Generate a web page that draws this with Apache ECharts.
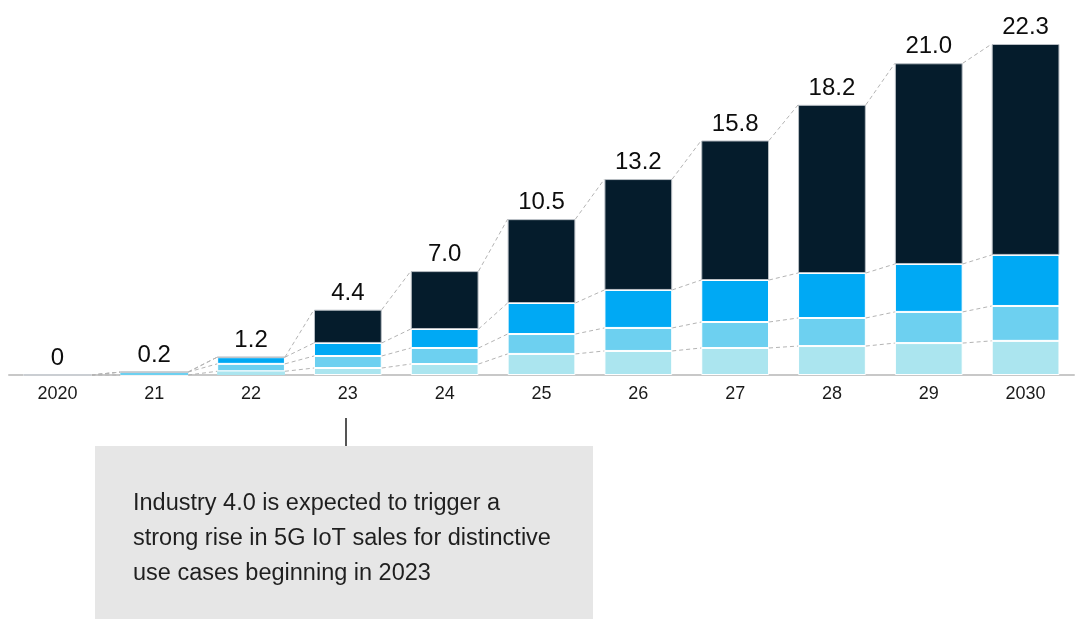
<!DOCTYPE html>
<html>
<head>
<meta charset="utf-8">
<script src="https://cdn.jsdelivr.net/npm/echarts@6/dist/echarts.min.js"></script>
<style>
  html, body { margin: 0; padding: 0; background: #fff; }
  #chart { width: 1075px; height: 619px; }
</style>
</head>
<body>
<div id="chart"></div>
<script>
// 5G IoT sales by year, stacked by segment (bottom to top)
const years = ['2020', '21', '22', '23', '24', '25', '26', '27', '28', '29', '2030'];
const segLightest = [0, 0, 0.25, 0.47, 0.74, 1.42, 1.62, 1.82, 1.95, 2.15, 2.30];
const segLight    = [0, 0.2, 0.50, 0.81, 1.08, 1.34, 1.55, 1.75, 1.89, 2.10, 2.35];
const segMid      = [0, 0, 0.45, 0.88, 1.28, 2.09, 2.56, 2.83, 3.03, 3.23, 3.44];
const segDark     = [0, 0, 0, 2.24, 3.90, 5.65, 7.47, 9.40, 11.33, 13.52, 14.21];
const totals      = [0, 0.2, 1.2, 4.4, 7.0, 10.5, 13.2, 15.8, 18.2, 21.0, 22.3];
const totalLabels = ['0', '0.2', '1.2', '4.4', '7.0', '10.5', '13.2', '15.8', '18.2', '21.0', '22.3'];
const noteText = 'Industry 4.0 is expected to trigger a\nstrong rise in 5G IoT sales for distinctive\nuse cases beginning in 2023';

const layers = [segLightest, segLight, segMid, segDark];
const colors = ['#abe5ef', '#6dd0f0', '#00a9f4', '#051c2c'];
const FONT = '"Liberation Sans", Arial, sans-serif';
const BAR_RATIO = 0.70;

// running tops of each layer for the connector lines
const cumTops = layers.map((_, k) =>
  years.map((_, i) => {
    let s = 0;
    for (let j = 0; j <= k; j++) s += layers[j][i];
    return s;
  })
);

const chart = echarts.init(document.getElementById('chart'), null, { renderer: 'canvas' });

const barSeries = layers.map((data, k) => ({
  type: 'bar',
  stack: 'sales',
  // very thin segments skip the white separator so their colour stays visible
  data: data.map(v => (v > 0 && v < 0.3) ? { value: v, itemStyle: { borderWidth: 0 } } : v),
  barWidth: (BAR_RATIO * 100) + '%',
  itemStyle: {
    color: colors[k],
    borderColor: k === 3 ? '#b9bec4' : '#ffffff',
    borderWidth: 1
  },
  z: 3,
  emphasis: { disabled: true },
  silent: true
}));

option = {
  animation: false,
  backgroundColor: '#ffffff',
  grid: { left: 9, right: 1, top: 44, bottom: 244, containLabel: false },
  xAxis: {
    type: 'category',
    data: years,
    axisLine: { show: true, lineStyle: { color: '#c8c8c8', width: 2 } },
    axisTick: { show: false },
    axisLabel: { color: '#1a1a1a', fontSize: 18, fontFamily: FONT, margin: 10 }
  },
  yAxis: {
    type: 'value',
    min: 0,
    max: 22.3,
    show: false,
    splitLine: { show: false }
  },
  series: [
    // dashed connectors between matching segment tops of neighbouring bars
    {
      type: 'custom',
      data: years.slice(0, -1).map((_, i) => [i, 0]),
      z: 1,
      silent: true,
      renderItem: function (params, api) {
        const i = api.value(0);
        const half = api.size([1, 0])[0] * BAR_RATIO / 2;
        const children = [];
        for (let k = 0; k < cumTops.length; k++) {
          const a = api.coord([i, cumTops[k][i]]);
          const b = api.coord([i + 1, cumTops[k][i + 1]]);
          children.push({
            type: 'line',
            shape: { x1: a[0] + half, y1: a[1], x2: b[0] - half, y2: b[1] },
            style: { stroke: '#b4b4b4', lineWidth: 1, lineDash: [4, 3] }
          });
        }
        return { type: 'group', children: children };
      }
    },
    ...barSeries,
    // total labels above each bar
    {
      type: 'scatter',
      data: totals.map((v, i) => [i, v]),
      symbolSize: 1,
      itemStyle: { color: 'transparent', opacity: 1 },
      z: 5,
      silent: true,
      label: {
        show: true,
        position: 'top',
        distance: 4,
        color: '#0d0d0d',
        fontSize: 24,
        fontFamily: FONT,
        formatter: p => totalLabels[p.dataIndex]
      }
    }
  ],
  graphic: [
    {
      type: 'line',
      shape: { x1: 346, y1: 418, x2: 346, y2: 446 },
      style: { stroke: '#555555', lineWidth: 2 },
      z: 10
    },
    {
      type: 'rect',
      shape: { x: 95, y: 446, width: 498, height: 173 },
      style: { fill: '#e6e6e6' },
      z: 10
    },
    {
      type: 'text',
      x: 133,
      y: 486,
      style: {
        text: noteText,
        fill: '#1f1f1f',
        font: '23.5px ' + FONT,
        lineHeight: 35,
        textVerticalAlign: 'top'
      },
      z: 11
    }
  ]
};

chart.setOption(option);
</script>
</body>
</html>
